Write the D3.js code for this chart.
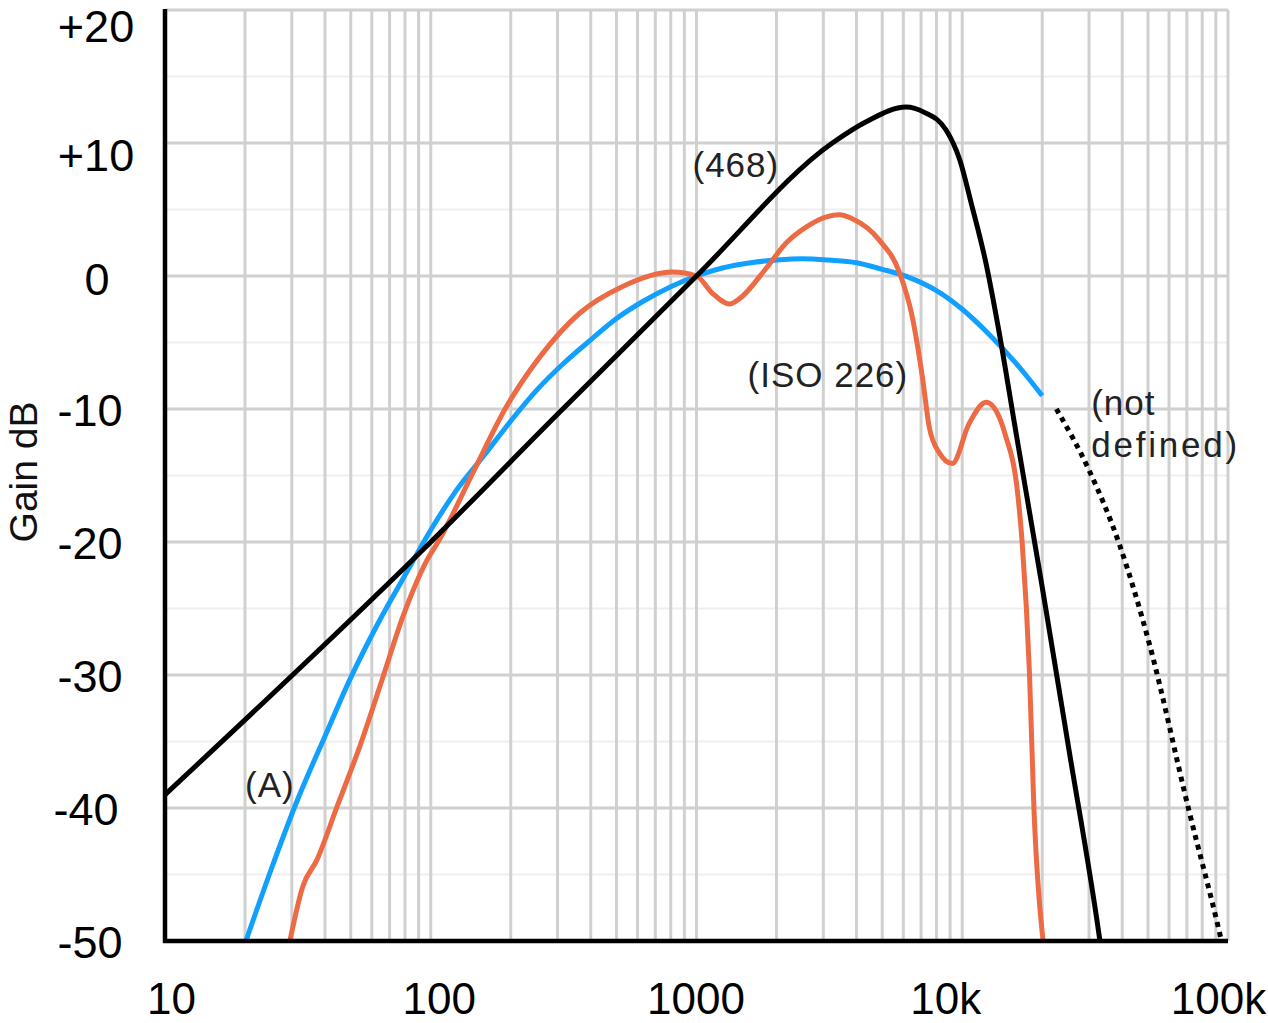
<!DOCTYPE html>
<html>
<head>
<meta charset="utf-8">
<script src="https://cdn.jsdelivr.net/npm/d3@7/dist/d3.min.js"></script>
<style>
  html, body { margin: 0; padding: 0; background: #ffffff; }
  svg { display: block; }
  text { font-family: "Liberation Sans", Arial, Helvetica, sans-serif; }
</style>
</head>
<body>
<svg id="chart" width="1268" height="1023"></svg>
<script>
// ---------- data ----------
const yTicks = [-50, -40, -30, -20, -10, 0, 10, 20];
const yTickLabels = ["-50", "-40", "-30", "-20", "-10", "0", "+10", "+20"];
const xTicks = [10, 100, 1000, 10000, 100000];
const xTickLabels = ["10", "100", "1000", "10k", "100k"];
const yTitle = "Gain dB";

// A-weighting (blue)
const freqA = [20, 25, 31.5, 40, 50, 63, 80, 100, 125, 160, 200, 250, 315, 400, 500, 630, 800, 1000,
               1250, 1600, 2000, 2500, 3150, 4000, 5000, 6300, 8000, 10000, 12500, 16000, 20000];
const gainA = [-50.2, -44.7, -39.4, -34.6, -30.2, -26.2, -22.5, -19.1, -16.1, -13.4, -10.9, -8.6, -6.6, -4.8, -3.2, -1.9, -0.8, 0,
               0.6, 1.0, 1.2, 1.3, 1.2, 1.0, 0.5, -0.1, -1.1, -2.5, -4.3, -6.6, -9.0];

// ISO 226 (red)
const freqISO = [29.5, 33, 37.3, 44.4, 54, 65.5, 78.6, 96.6, 108, 144, 193, 257, 363, 525, 812, 1000,
                 1148, 1331, 1452, 1832, 2178, 2593, 3084, 3450, 3857, 4874, 5794, 6490, 7080, 7520, 8200, 9170,
                 10610, 12300, 13770, 14600, 16000, 16800, 17900, 18600, 20000, 20300];
const gainISO = [-50, -45.9, -43.9, -39.9, -35.4, -30.4, -25.6, -21.4, -19.8, -14.8, -9.8, -6.1, -2.8, -0.8, 0.3, 0,
                 -1.3, -2.1, -1.7, 0.6, 2.5, 3.7, 4.45, 4.6, 4.3, 2.7, 0.3, -3.1, -7.6, -11.4, -13.3, -14.1,
                 -11.1, -9.5, -10.6, -12.1, -15.6, -20.0, -29.8, -39.9, -49.4, -50.5];

// ITU-R 468 (black)
const freq468 = [10, 100, 300, 1000, 3245, 4350, 6150, 7200, 8680, 9800, 10800, 12300, 13700, 16000,
                 20000, 25200, 32700, 33500];
const gain468 = [-39.0, -20.0, -10.4, 0, 10.0, 11.6, 12.7, 12.3, 11.0, 8.7, 5.5, 0.9, -4.0, -12.0,
                 -23.4, -35.6, -49.5, -51.0];

// not defined (dotted)
const freqND = [22600, 30000, 38900, 50500, 71300, 92500, 94500];
const gainND = [-10.0, -14.6, -20.1, -27.6, -40.2, -49.2, -50.0];

// annotation labels, anchored in data units
const labels = [
  { text: "(468)", f: 966, g: 7.44 },
  { text: "(ISO 226)", f: 1556, g: -8.35 },
  { text: "(A)", f: 20, g: -39.2 },
  { text: "(not", f: 30550, g: -10.45 },
  { text: "defined)", f: 30550, g: -13.6 }
];

// ---------- layout ----------
const svg = d3.select("#chart");
const pL = 165, pR = 1228, pT = 10, pB = 941;
const x = d3.scaleLog().domain([10, 100000]).range([pL, pR]);
const y = d3.scaleLinear().domain([-50, 20]).range([pB, pT]);

// faint 5 dB lines
const faint = d3.range(-45, 20, 10);
svg.append("g").selectAll("line").data(faint).join("line")
  .attr("x1", pL).attr("x2", pR)
  .attr("y1", d => y(d)).attr("y2", d => y(d))
  .attr("stroke", "#efefef").attr("stroke-width", 2);

// vertical grid
const vgrid = [];
[10, 100, 1000, 10000].forEach(dec => { for (let k = 1; k <= 9; k++) vgrid.push(dec * k); });
vgrid.push(100000);
svg.append("g").selectAll("line").data(vgrid).join("line")
  .attr("x1", d => x(d)).attr("x2", d => x(d))
  .attr("y1", pT).attr("y2", pB)
  .attr("stroke", "#d0d0d0").attr("stroke-width", 3);

// horizontal grid
svg.append("g").selectAll("line").data(yTicks).join("line")
  .attr("x1", pL).attr("x2", pR)
  .attr("y1", d => y(d)).attr("y2", d => y(d))
  .attr("stroke", "#d0d0d0").attr("stroke-width", 3);

// clip
svg.append("defs").append("clipPath").attr("id", "plotclip")
  .append("rect").attr("x", pL).attr("y", pT - 5).attr("width", pR - pL + 5).attr("height", pB - pT + 5);

const line = d3.line().x(d => x(d[0])).y(d => y(d[1])).curve(d3.curveMonotoneX);
const plot = svg.append("g").attr("clip-path", "url(#plotclip)");

plot.append("path").datum(d3.zip(freqA, gainA)).attr("d", line)
  .attr("fill", "none").attr("stroke", "#12a0ff").attr("stroke-width", 5);
plot.append("path").datum(d3.zip(freqISO, gainISO)).attr("d", line)
  .attr("fill", "none").attr("stroke", "#ec6a44").attr("stroke-width", 5);
plot.append("path").datum(d3.zip(freq468, gain468)).attr("d", line)
  .attr("fill", "none").attr("stroke", "#000").attr("stroke-width", 5);
plot.append("path").datum(d3.zip(freqND, gainND)).attr("d", line)
  .attr("fill", "none").attr("stroke", "#000").attr("stroke-width", 5)
  .attr("stroke-dasharray", "5,5");

// axes
const yNudgeX = { "20": 4, "10": 4, "0": 5, "-10": -2, "-20": -2, "-30": -2, "-40": -6, "-50": -2 };
const yNudgeY = { "20": "0.7em", "10": "0.61em", "0": "0.41em" };
const yAxis = d3.axisLeft(y).tickValues(yTicks)
  .tickFormat((d, i) => yTickLabels[i]).tickSize(0).tickPadding(73);
const gy = svg.append("g").attr("transform", `translate(${pL},0)`).call(yAxis);
gy.select(".domain").remove();
gy.selectAll("text").attr("font-size", 45).attr("fill", "#000")
  .attr("text-anchor", "middle")
  .attr("font-family", '"Liberation Sans", Arial, sans-serif')
  .attr("dx", d => yNudgeX[String(d)] || 0)
  .attr("dy", d => yNudgeY[String(d)] || "0.37em");

const xAxis = d3.axisBottom(x).tickValues(xTicks)
  .tickFormat((d, i) => xTickLabels[i]).tickSize(0).tickPadding(42);
const gx = svg.append("g").attr("transform", `translate(0,${pB})`).call(xAxis);
gx.select(".domain").remove();
const xNudge = [6, 8, -1, -17, -10];
gx.selectAll("text").attr("font-size", 44).attr("fill", "#000")
  .attr("font-family", '"Liberation Sans", Arial, sans-serif')
  .attr("dx", (d, i) => xNudge[i]);

// axis lines
svg.append("line").attr("x1", pL).attr("x2", pL).attr("y1", pT - 1).attr("y2", pB + 2)
  .attr("stroke", "#000").attr("stroke-width", 4.5);
svg.append("line").attr("x1", pL - 2).attr("x2", pR).attr("y1", pB).attr("y2", pB)
  .attr("stroke", "#000").attr("stroke-width", 4.5);

// y title
svg.append("text").attr("transform", `translate(37,472) rotate(-90)`)
  .attr("text-anchor", "middle").attr("font-size", 39).attr("fill", "#111").text(yTitle);

// annotations
const extraSpacing = { "defined)": "2.8px" };
svg.append("g").selectAll("text").data(labels).join("text")
  .attr("x", d => x(d.f)).attr("y", d => y(d.g))
  .attr("font-size", 35).attr("letter-spacing", d => extraSpacing[d.text] || "1px").attr("fill", "#222")
  .text(d => d.text);
</script>
</body>
</html>
